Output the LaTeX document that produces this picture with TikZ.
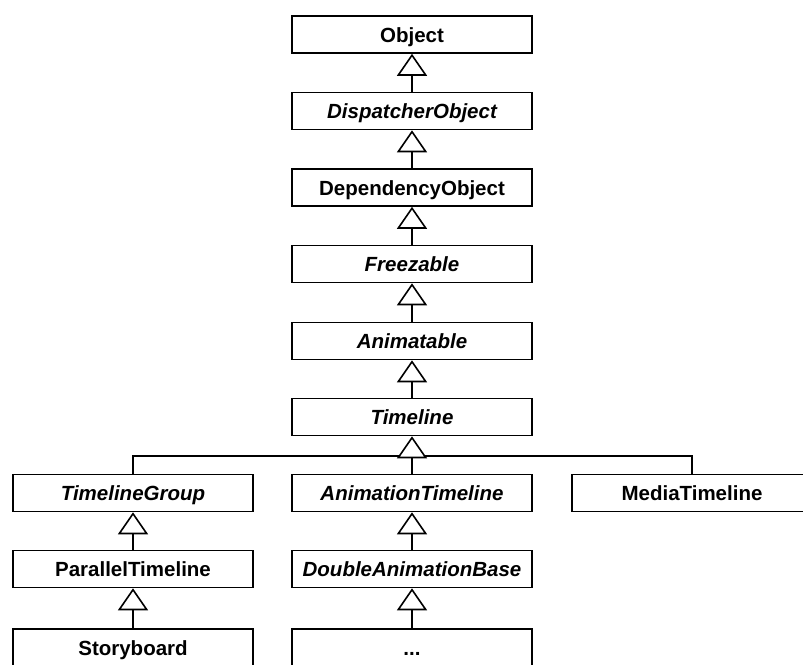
\documentclass[tikz,border=0pt]{standalone}
\usepackage{fontspec}
\setmainfont{Liberation Sans}
\usetikzlibrary{arrows.meta}
\begin{document}
\begin{tikzpicture}[x=1pt,y=-1pt,
  cls/.style={draw, line width=1.6pt, fill=white, minimum width=240pt, minimum height=37pt,
    inner sep=0pt, text height=20pt, text depth=5pt, font=\fontsize{20.5}{24}\selectfont\bfseries},
  abs/.style={cls, font=\fontsize{20.5}{24}\selectfont\bfseries\itshape},
  conn/.style={line width=1.3pt},
  gen/.style={conn, -{Triangle[open, fill=white, length=22pt, width=30pt, line width=1.6pt]}}]
\useasboundingbox (0,0) rectangle (803,664);
% main inheritance chain
\node[cls] (obj)  at (412,34.5) {Object};
\node[abs] (disp) at (412,111)  {DispatcherObject};
\node[cls] (dep)  at (412,187.5){DependencyObject};
\node[abs] (frz)  at (412,264)  {Freezable};
\node[abs] (anim) at (412,341)  {Animatable};
\node[abs] (tl)   at (412,417)  {Timeline};
% second level
\node[abs] (tg)  at (133,493) {TimelineGroup};
\node[abs] (at)  at (412,493) {AnimationTimeline};
\node[cls] (mt)  at (692,493) {MediaTimeline};
\node[cls] (pt)  at (133,569) {ParallelTimeline};
\node[abs] (dab) at (412,569) {DoubleAnimationBase};
\node[cls] (sb)  at (133,647.5) {Storyboard};
\node[cls] (more) at (412,647.5) {...};
% branch joint below Timeline
\coordinate (j) at (412,456);
\draw[conn] (tg.north) |- (j);
\draw[conn] (mt.north) |- (j);
% generalization arrows
\draw[gen] (disp.north) -- (obj.south);
\draw[gen] (dep.north) -- (disp.south);
\draw[gen] (frz.north) -- (dep.south);
\draw[gen] (anim.north) -- (frz.south);
\draw[gen] (tl.north) -- (anim.south);
\draw[gen] (at.north) -- (tl.south);
\draw[gen] (pt.north) -- (tg.south);
\draw[gen] (sb.north) -- (pt.south);
\draw[gen] (dab.north) -- (at.south);
\draw[gen] (more.north) -- (dab.south);
\end{tikzpicture}
\end{document}
